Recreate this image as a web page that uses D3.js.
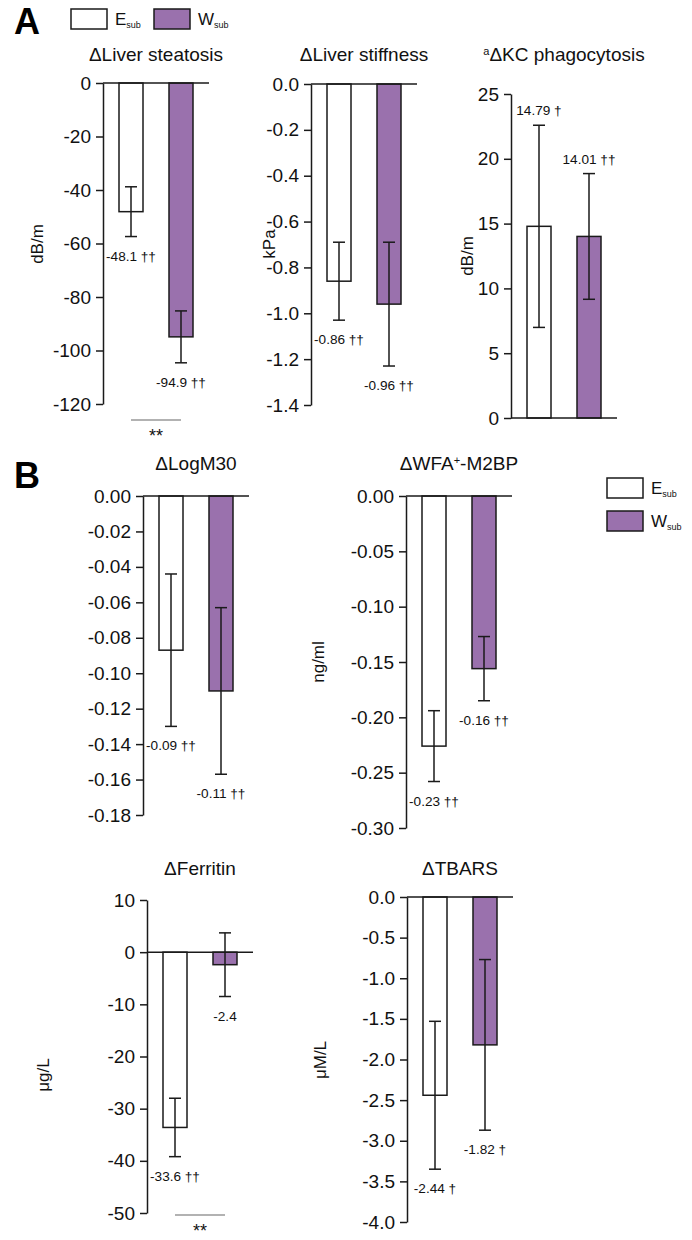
<!DOCTYPE html>
<html>
<head>
<meta charset="utf-8">
<script src="https://cdn.jsdelivr.net/npm/d3@7"></script>
<style>
  html, body { margin: 0; padding: 0; background: #fff; }
  svg { display: block; font-family: Arial, "Liberation Sans", sans-serif; }
</style>
</head>
<body>
<script>
// ---------------- DATA ----------------
const groups = ["E", "W"];
const titles = ["ΔLiver steatosis", "ΔLiver stiffness", "^{a}ΔKC phagocytosis",
                "ΔLogM30", "ΔWFA^{+}-M2BP", "ΔFerritin", "ΔTBARS"];
const units = ["dB/m", "kPa", "dB/m", "", "ng/ml", "μg/L", "μM/L"];
const meanE = [-48.1, -0.86, 14.79, -0.087, -0.226, -33.6, -2.44];
const meanW = [-94.9, -0.96, 14.01, -0.110, -0.156, -2.4, -1.82];
const errE  = [9.3, 0.17, 7.8, 0.043, 0.032, 5.6, 0.91];
const errW  = [9.7, 0.27, 4.85, 0.047, 0.029, 6.1, 1.05];
const labelE = ["-48.1 ††", "-0.86 ††", "14.79 †", "-0.09 ††", "-0.23 ††", "-33.6 ††", "-2.44 †"];
const labelW = ["-94.9 ††", "-0.96 ††", "14.01 ††", "-0.11 ††", "-0.16 ††", "-2.4", "-1.82 †"];
const yDomains = [[-120, 0], [-1.4, 0], [0, 25], [-0.18, 0], [-0.30, 0], [-50, 10], [-4, 0]];
const tickSteps = [20, 0.2, 5, 0.02, 0.05, 10, 0.5];
const tickDecimals = [0, 1, 0, 2, 2, 0, 1];
const significance = ["**", "", "", "", "", "**", ""];

// ---------------- LAYOUT ----------------
const layout = [
  { ax: 103, top: 83,  bot: 404,  titleY: 61,  unitX: 37,  unitY: 244,  sigY: 420 },
  { ax: 311, top: 84,  bot: 405,  titleY: 61,  unitX: 269, unitY: 244 },
  { ax: 511, top: 94,  bot: 418,  titleY: 61,  unitX: 467, unitY: 256 },
  { ax: 143, top: 496, bot: 815,  titleY: 470, unitX: 0,   unitY: 0 },
  { ax: 406, top: 496, bot: 828,  titleY: 470, unitX: 318, unitY: 662 },
  { ax: 147, top: 900, bot: 1213, titleY: 875, unitX: 43,  unitY: 1075, sigY: 1215 },
  { ax: 407, top: 897, bot: 1222, titleY: 875, unitX: 320, unitY: 1060 }
];
const PURPLE = "#9a71ad";
const INK = "#1a1a1a";
const plotW = 106;

const svg = d3.select("body").append("svg").attr("width", 692).attr("height", 1240);

function richText(sel, str, supSize) {
  const parts = str.split(/(\^\{[^}]*\})/).filter(s => s.length);
  parts.forEach(p => {
    if (p.startsWith("^{")) {
      sel.append("tspan").attr("font-size", supSize).attr("baseline-shift", "55%").text(p.slice(2, -1));
    } else {
      sel.append("tspan").text(p);
    }
  });
}

titles.forEach((title, i) => {
  const L = layout[i];
  const [lo, hi] = yDomains[i];
  const y = d3.scaleLinear().domain([lo, hi]).range([L.bot, L.top]);
  const x = d3.scaleBand().domain(groups).range([L.ax, L.ax + plotW])
              .paddingInner(0.52).paddingOuter(0.32);
  const g = svg.append("g");

  // title
  const t = g.append("text").attr("x", L.ax + plotW / 2).attr("y", L.titleY)
    .attr("text-anchor", "middle").attr("font-size", 19).attr("fill", "#111");
  richText(t, title, 11);

  // unit label
  if (units[i]) {
    g.append("text").attr("transform", `translate(${L.unitX},${L.unitY}) rotate(-90)`)
      .attr("text-anchor", "middle").attr("dy", "0.35em")
      .attr("font-size", 17).attr("fill", "#111").text(units[i]);
  }

  // axis
  const n = Math.round((hi - lo) / tickSteps[i]);
  const ticks = d3.range(n + 1).map(k => lo + k * tickSteps[i]);
  const fmt = d3.format("." + tickDecimals[i] + "f");
  const axis = d3.axisLeft(y).tickValues(ticks)
    .tickFormat(v => fmt(Math.abs(v) < 1e-9 ? 0 : v).replace("−", "-"))
    .tickSize(7).tickPadding(5).tickSizeOuter(0);
  const ag = g.append("g").attr("transform", `translate(${L.ax},0)`).call(axis);
  ag.select(".domain").attr("stroke", INK).attr("stroke-width", 1.5);
  ag.selectAll(".tick line").attr("stroke", INK).attr("stroke-width", 1.5);
  ag.selectAll(".tick text").attr("font-size", 19).attr("fill", "#111")
    .attr("font-family", "Arial, 'Liberation Sans', sans-serif");

  // bars
  const rows = groups.map((grp, k) => ({
    grp, v: k === 0 ? meanE[i] : meanW[i], e: k === 0 ? errE[i] : errW[i],
    lab: k === 0 ? labelE[i] : labelW[i], fill: k === 0 ? "#ffffff" : PURPLE
  }));
  rows.forEach(r => {
    const y0 = y(0), yv = y(r.v);
    g.append("rect").attr("x", x(r.grp)).attr("width", x.bandwidth())
      .attr("y", Math.min(y0, yv)).attr("height", Math.abs(yv - y0))
      .attr("fill", r.fill).attr("stroke", INK).attr("stroke-width", 1.5);
  });

  // zero line
  g.append("line").attr("x1", L.ax).attr("x2", L.ax + plotW)
    .attr("y1", y(0)).attr("y2", y(0)).attr("stroke", INK).attr("stroke-width", 1.5);

  // error bars + labels
  rows.forEach(r => {
    const cx = x(r.grp) + x.bandwidth() / 2;
    const yt = y(r.v + r.e), yb = y(r.v - r.e);
    g.append("line").attr("x1", cx).attr("x2", cx).attr("y1", yt).attr("y2", yb)
      .attr("stroke", INK).attr("stroke-width", 1.5);
    [yt, yb].forEach(yy => g.append("line").attr("x1", cx - 6).attr("x2", cx + 6)
      .attr("y1", yy).attr("y2", yy).attr("stroke", INK).attr("stroke-width", 1.5));
    const ly = r.v >= 0 ? yt - 10 : yb + 24;
    g.append("text").attr("x", cx).attr("y", ly).attr("text-anchor", "middle")
      .attr("font-size", 13.6).attr("fill", "#111").text(r.lab);
  });

  // significance
  if (significance[i]) {
    const c1 = x("E") + x.bandwidth() / 2, c2 = x("W") + x.bandwidth() / 2;
    g.append("line").attr("x1", c1).attr("x2", c2).attr("y1", L.sigY).attr("y2", L.sigY)
      .attr("stroke", "#666").attr("stroke-width", 1.2);
    g.append("text").attr("x", (c1 + c2) / 2).attr("y", L.sigY + 22)
      .attr("text-anchor", "middle").attr("font-size", 18).attr("fill", "#111")
      .text(significance[i]);
  }
});

// panel letters
svg.append("text").attr("x", 14).attr("y", 34).attr("font-size", 36)
  .attr("font-weight", "bold").attr("fill", "#000").text("A");
svg.append("text").attr("x", 14).attr("y", 488).attr("font-size", 36)
  .attr("font-weight", "bold").attr("fill", "#000").text("B");

// legends
function legendItem(xb, yb, grp, fill) {
  svg.append("rect").attr("x", xb).attr("y", yb).attr("width", 36).attr("height", 20)
    .attr("fill", fill).attr("stroke", INK).attr("stroke-width", 1.5);
  const t = svg.append("text").attr("x", xb + 44).attr("y", yb + 16)
    .attr("font-size", 17).attr("fill", "#111");
  t.append("tspan").text(grp);
  t.append("tspan").attr("font-size", 9).attr("dy", 3).text("sub");
}
legendItem(71, 9, groups[0], "#ffffff");
legendItem(154, 9, groups[1], PURPLE);
legendItem(607, 478, groups[0], "#ffffff");
legendItem(607, 511, groups[1], PURPLE);
</script>
</body>
</html>
